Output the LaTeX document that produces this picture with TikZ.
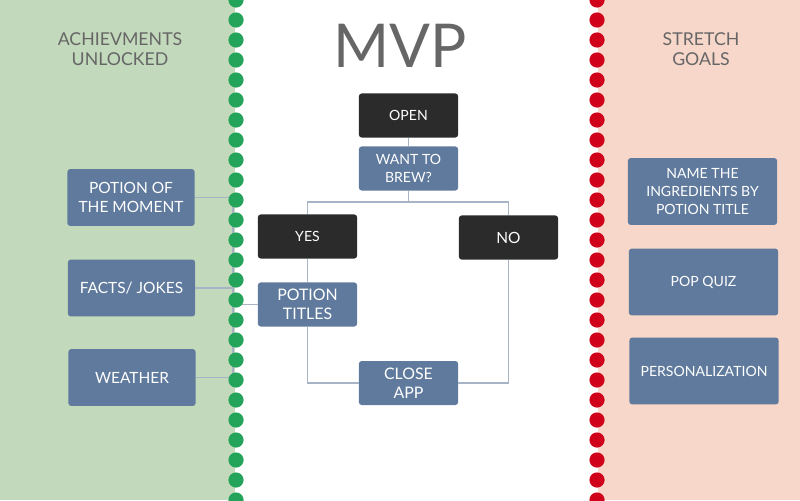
\documentclass[tikz,border=0pt]{standalone}
\usepackage{fontspec}
\setmainfont{Lato}
\definecolor{greenbg}{HTML}{C3D9BC}
\definecolor{redbg}{HTML}{F7D7CA}
\definecolor{dotgreen}{HTML}{24A35A}
\definecolor{dotred}{HTML}{D0021B}
\definecolor{boxblue}{HTML}{5F7A9D}
\definecolor{boxdark}{HTML}{2B2B2B}
\definecolor{linegray}{HTML}{A7B4C6}
\definecolor{headgray}{HTML}{666666}
\usetikzlibrary{positioning, calc}

\begin{document}
\begin{tikzpicture}[
  x=0.025cm, y=-0.025cm,
  box/.style={fill=boxblue, rounded corners=2pt, text=white, align=center,
              inner sep=0pt, font=\fontsize{10}{13}\selectfont},
  flow/.style={box, minimum width=2.48cm, minimum height=1.1cm},
  bigflow/.style={flow, font=\fontsize{11.3}{13.5}\selectfont},
  dark/.style={flow, fill=boxdark},
  side/.style={box, minimum width=3.18cm, minimum height=1.42cm,
               font=\fontsize{11}{13.5}\selectfont},
  goal/.style={box, minimum width=3.73cm, minimum height=1.67cm},
  head/.style={text=headgray, align=center, font=\fontsize{12.6}{14.3}\selectfont},
  link/.style={draw=linegray, line width=1.05pt}
]
\useasboundingbox (0,0) rectangle (800,500);

% columns
\fill[greenbg] (0,0) rectangle (235,500);
\fill[redbg] (598,0) rectangle (800,500);

\node[head] (achieve) at (120,49) {ACHIEVMENTS\\UNLOCKED};
\node[head] (stretch) at (701,49) {STRETCH\\GOALS};
\node[text=headgray, font=\fontsize{43}{43}\selectfont] (mvp) at (400,46) {MVP};

% flow chart
\node[dark] (open) at (408.5,115.5) {OPEN};
\node[flow] (want) at (408.5,168.5) {WANT TO\\BREW?};
\node[dark] (yes) at (307.5,236.5) {YES};
\node[dark, font=\fontsize{11}{13}\selectfont] (no) at (508.5,237.5) {NO};
\node[bigflow] (titles) at (307.5,304.5) {POTION\\TITLES};
\node[bigflow] (close) at (408.5,383) {CLOSE\\APP};

\node[side] (moment) at (131,197.5) {POTION OF\\THE MOMENT};
\node[side] (facts) at (131.5,288) {FACTS/ JOKES};
\node[side] (weather) at (132,377.5) {WEATHER};

\node[goal] (ingred) at (702.5,191.5) {NAME THE\\INGREDIENTS BY\\POTION TITLE};
\node[goal] (quiz) at (703.5,282) {POP QUIZ};
\node[goal] (personal) at (704,371) {PERSONALIZATION};

\coordinate (split) at (408.5,202);
\coordinate (bus) at (233,0);

\draw[link] (open) -- (want);
\draw[link] (want) -- (split);
\draw[link] (yes.north) |- (split) -| (no.north);
\draw[link] (yes) -- (titles);
\draw[link] (titles.south) |- (close.west);
\draw[link] (no.south) |- (close.east);

\draw[link] (moment.east) -- (moment.east -| bus) -- (weather.east -| bus) -- (weather.east);
\draw[link] (facts.east) -- (facts.east -| bus);
\draw[link] (titles.west) -- (titles.west -| bus);

% dotted borders
\foreach \y in {0,20,...,500} {
  \fill[dotgreen] (236,\y) circle (0.19cm);
  \fill[dotred] (597,\y) circle (0.19cm);
}
\end{tikzpicture}
\end{document}
